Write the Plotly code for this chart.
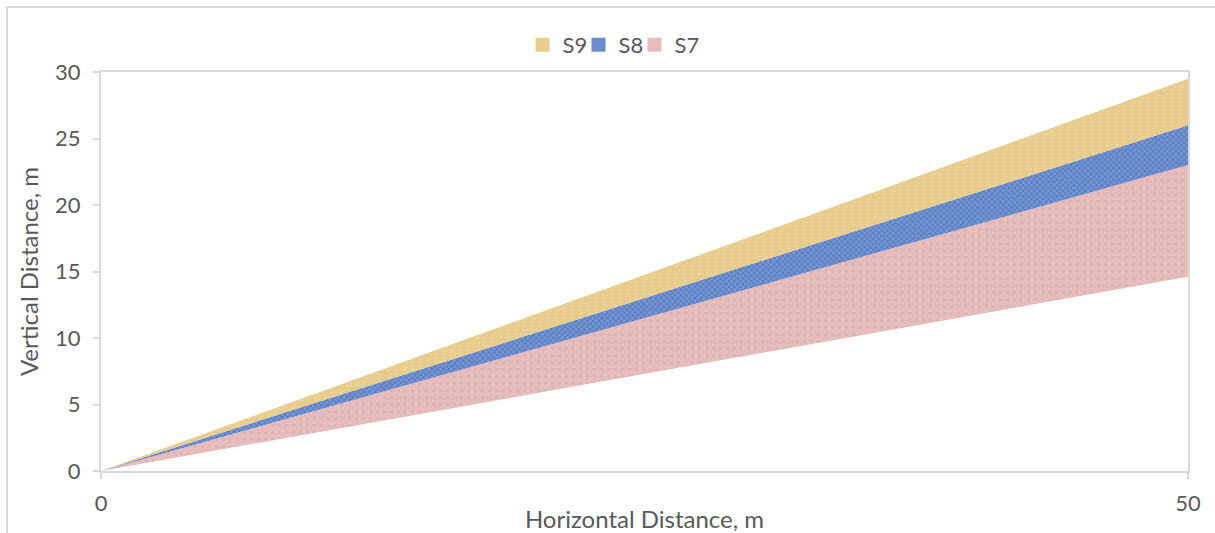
import plotly.graph_objects as go

# Horizontal distance (m) at the two ends of each band
x_vals = [0, 50]
# Invisible base below the first band (m)
base = [0, 14.6]
# Band thicknesses stacked on top of the base (m)
s7 = [0, 8.4]
s8 = [0, 3.0]
s9 = [0, 3.5]

series = [
    ("S7", s7, "#e7bcbc", dict(shape=".", bgcolor="#e7bcbc", fgcolor="#d6a8a8",
                               size=7, solidity=0.15)),
    ("S8", s8, "#6b8bcb", dict(shape="x", bgcolor="#7394d2", fgcolor="#3d5c9c",
                               size=4, solidity=0.4)),
    ("S9", s9, "#e9cd8e", dict(shape="+", bgcolor="#eacf92", fgcolor="#dbbb78",
                               size=8, solidity=0.15)),
]

FONT = "Lato, 'Open Sans', sans-serif"
TEXT = "#595959"
GRID = "#d9d9d9"

fig = go.Figure()

fig.add_trace(go.Scatter(
    x=x_vals, y=base, stackgroup="s", mode="none",
    fillcolor="rgba(0,0,0,0)", showlegend=False, hoverinfo="skip",
))
for name, vals, color, pattern in series:
    fig.add_trace(go.Scatter(
        x=x_vals, y=vals, stackgroup="s", mode="none", name=name,
        fillcolor=color, fillpattern=pattern, showlegend=False,
    ))

# square swatches for the legend
for name, vals, color, pattern in reversed(series):
    fig.add_trace(go.Scatter(
        x=[None], y=[None], mode="markers", name=name,
        marker=dict(symbol="square", size=14, color=color),
    ))
# blank trailing entry so the last label is not clipped
fig.add_trace(go.Scatter(
    x=[None], y=[None], mode="markers", name=" ",
    marker=dict(symbol="square", size=14, color="rgba(0,0,0,0)"),
))

fig.update_layout(
    width=1215, height=533,
    margin=dict(l=101, r=27, t=72, b=62, autoexpand=False),
    paper_bgcolor="white", plot_bgcolor="white",
    font=dict(family=FONT, size=22, color=TEXT),
    showlegend=True,
    legend=dict(
        orientation="h", traceorder="normal",
        x=0.3878, xanchor="left", y=1.068, yanchor="middle",
        font=dict(size=22, color=TEXT), itemwidth=30,
        entrywidth=11, entrywidthmode="pixels",
        bgcolor="rgba(0,0,0,0)",
    ),
    xaxis=dict(
        range=[0, 50], tickvals=[0, 50], showgrid=False, zeroline=False,
        showline=True, linecolor=GRID, linewidth=2, mirror=True,
        ticks="outside", ticklen=6, tickcolor=GRID, tickwidth=2,
        ticklabelstandoff=6, automargin=False,
        tickfont=dict(size=22, color=TEXT),
        title=dict(text="Horizontal Distance, m", standoff=4,
                   font=dict(size=24, color=TEXT)),
    ),
    yaxis=dict(
        range=[0, 30], tickvals=[0, 5, 10, 15, 20, 25, 30], showgrid=False,
        zeroline=False, automargin=False,
        showline=True, linecolor=GRID, linewidth=2, mirror=True,
        ticks="outside", ticklen=6, tickcolor=GRID, tickwidth=2,
        ticklabelstandoff=8,
        tickfont=dict(size=22, color=TEXT),
        title=dict(text="Vertical Distance, m", standoff=10,
                   font=dict(size=24, color=TEXT)),
    ),
    shapes=[
        # outer chart frame (left and top edges visible)
        dict(type="line", xref="paper", yref="paper",
             x0=-0.0865, x1=-0.0865, y0=-0.2, y1=1.163,
             line=dict(color=GRID, width=2)),
        dict(type="line", xref="paper", yref="paper",
             x0=-0.0865, x1=1.1, y0=1.163, y1=1.163,
             line=dict(color=GRID, width=2)),
    ],
)

fig.write_html("out.html")
